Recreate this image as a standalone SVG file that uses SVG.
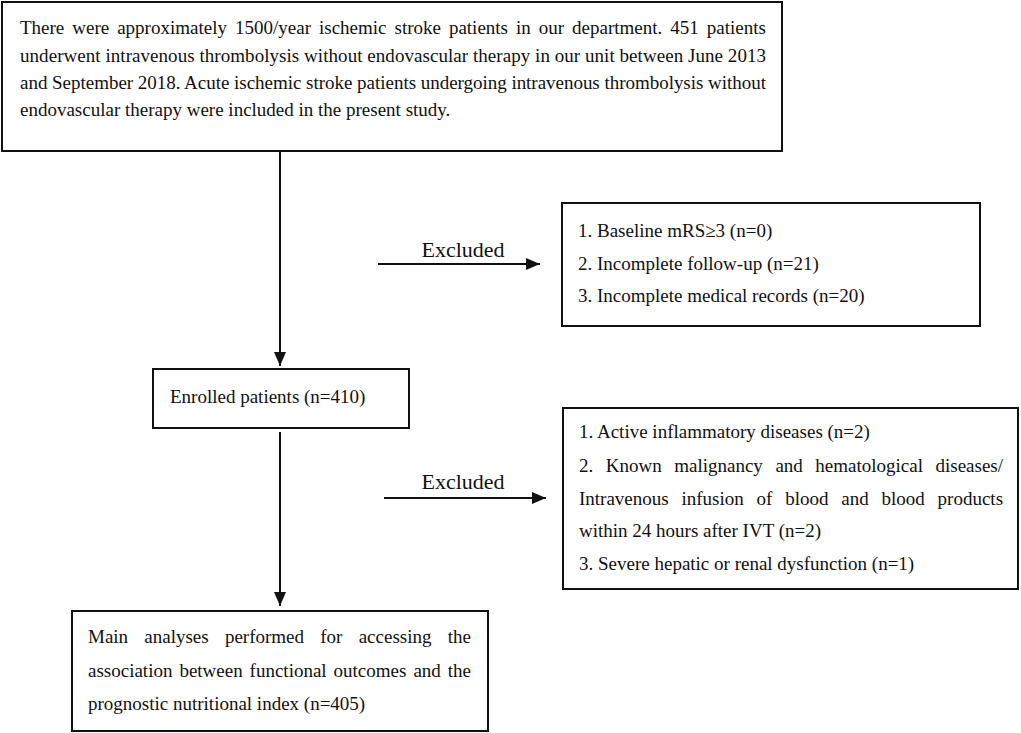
<svg xmlns="http://www.w3.org/2000/svg" width="1021" height="733" viewBox="0 0 1021 733">
<style>
.box{fill:#fff;stroke:#111;stroke-width:2}
.t{font-family:"Liberation Serif","Times New Roman",serif;font-size:19px;fill:#111}
.lbl{font-family:"Liberation Serif","Times New Roman",serif;font-size:22px;fill:#111}
.c{stroke:#111;stroke-width:2;fill:none}
</style>
<defs>
<marker id="ah" markerUnits="userSpaceOnUse" markerWidth="14" markerHeight="14" viewBox="0 0 14 14" refX="14" refY="7" orient="auto">
<polygon points="0,1 14,7 0,13" fill="#111"/>
</marker>
</defs>
<rect width="1021" height="733" fill="#fff"/>
<g id="top">
<rect class="box" x="2" y="2" width="780" height="149"/>
<text class="t" y="34"><tspan x="20">There</tspan><tspan x="72.3">were</tspan><tspan x="117.2">approximately</tspan><tspan x="235">1500/year</tspan><tspan x="319">ischemic</tspan><tspan x="394.5">stroke</tspan><tspan x="448.9">patients</tspan><tspan x="516">in</tspan><tspan x="538.8">our</tspan><tspan x="572.1">department.</tspan><tspan x="670.3">451</tspan><tspan x="706.8">patients</tspan></text>
<text class="t" x="20" y="62" textLength="746" lengthAdjust="spacing">underwent intravenous thrombolysis without endovascular therapy in our unit between June 2013</text>
<text class="t" x="20" y="89" textLength="746" lengthAdjust="spacing">and September 2018. Acute ischemic stroke patients undergoing intravenous thrombolysis without</text>
<text class="t" x="20" y="116">endovascular therapy were included in the present study.</text>
</g>
<g id="excl1">
<rect class="box" x="562" y="203" width="418" height="123"/>
<text class="t" x="578" y="237">1. Baseline mRS≥3 (n=0)</text>
<text class="t" x="578" y="270">2. Incomplete follow-up (n=21)</text>
<text class="t" x="578" y="302">3. Incomplete medical records (n=20)</text>
</g>
<g id="enrolled">
<rect class="box" x="153" y="369" width="256" height="59"/>
<text class="t" x="170" y="403">Enrolled patients (n=410)</text>
</g>
<g id="excl2">
<rect class="box" x="563" y="408" width="455" height="181"/>
<text class="t" x="579" y="438">1. Active inflammatory diseases (n=2)</text>
<text class="t" y="472"><tspan x="579">2.</tspan><tspan x="605.8">Known</tspan><tspan x="674.2">malignancy</tspan><tspan x="775.4">and</tspan><tspan x="815.3">hematological</tspan><tspan x="935.5">diseases/</tspan></text>
<text class="t" y="505"><tspan x="579">Intravenous</tspan><tspan x="681.5">infusion</tspan><tspan x="756.6">of</tspan><tspan x="785.2">blood</tspan><tspan x="841.3">and</tspan><tspan x="881.5">blood</tspan><tspan x="937.6">products</tspan></text>
<text class="t" x="579" y="537">within 24 hours after IVT (n=2)</text>
<text class="t" x="579" y="570">3. Severe hepatic or renal dysfunction (n=1)</text>
</g>
<g id="main">
<rect class="box" x="72" y="611" width="416" height="120"/>
<text class="t" y="643"><tspan x="88">Main</tspan><tspan x="144.3">analyses</tspan><tspan x="224.9">performed</tspan><tspan x="320.3">for</tspan><tspan x="358.7">accessing</tspan><tspan x="447.8">the</tspan></text>
<text class="t" y="677"><tspan x="88">association</tspan><tspan x="179.4">between</tspan><tspan x="249.6">functional</tspan><tspan x="333.6">outcomes</tspan><tspan x="413.4">and</tspan><tspan x="447.8">the</tspan></text>
<text class="t" x="88" y="710">prognostic nutritional index (n=405)</text>
</g>
<g id="connectors">
<line class="c" x1="280" y1="151" x2="280" y2="366" marker-end="url(#ah)"/>
<line class="c" x1="378" y1="264" x2="540" y2="264" marker-end="url(#ah)"/>
<text class="lbl" x="463" y="257" text-anchor="middle">Excluded</text>
<line class="c" x1="280" y1="432" x2="280" y2="606" marker-end="url(#ah)"/>
<line class="c" x1="384" y1="498" x2="546" y2="498" marker-end="url(#ah)"/>
<text class="lbl" x="463" y="489" text-anchor="middle">Excluded</text>
</g>
</svg>
